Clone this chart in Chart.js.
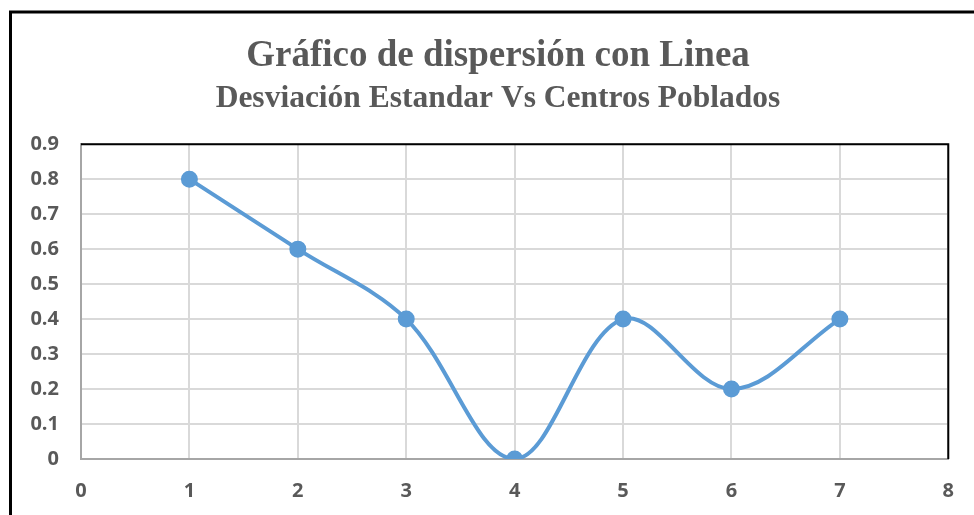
<!DOCTYPE html>
<html>
<head>
<meta charset="utf-8">
<script src="https://cdn.jsdelivr.net/npm/chart.js@4"></script>
<style>
  html, body { margin: 0; padding: 0; background: #fff; }
  #wrap { width: 974px; height: 515px; }
</style>
</head>
<body>
<div id="wrap"><canvas id="chart"></canvas></div>
<script>
// centros poblados (x) y desviacion estandar (y)
const centros = [1, 2, 3, 4, 5, 6, 7];
const desviacion = [0.8, 0.6, 0.4, 0, 0.4, 0.2, 0.4];

const titleText = 'Gráfico de dispersión con Linea';
const subtitleText = 'Desviación Estandar Vs Centros Poblados';

const lineColor = '#5b9bd5';
const textColor = '#595959';

// marco exterior y borde del area de trazado
const frame = {
  id: 'frame',
  beforeDraw(chart) {
    const ctx = chart.ctx;
    ctx.save();
    ctx.fillStyle = '#fff';
    ctx.fillRect(0, 0, chart.width, chart.height);
    ctx.strokeStyle = '#000';
    ctx.lineWidth = 3;
    ctx.strokeRect(10.5, 12, 2000, 2000);
    ctx.restore();
  },
  afterDraw(chart) {
    const a = chart.chartArea;
    const ctx = chart.ctx;
    ctx.save();
    ctx.strokeStyle = '#000';
    ctx.lineWidth = 2;
    ctx.beginPath();
    ctx.moveTo(a.left, a.top);
    ctx.lineTo(a.right, a.top);
    ctx.lineTo(a.right, a.bottom);
    ctx.stroke();
    ctx.restore();
  }
};

const points = centros.map((x, i) => ({ x: x, y: desviacion[i] }));

new Chart('chart', {
  type: 'scatter',
  data: {
    datasets: [{
      data: points,
      showLine: true,
      borderColor: lineColor,
      backgroundColor: lineColor,
      borderWidth: 4,
      pointRadius: 6.5,
      pointHoverRadius: 6.5,
      tension: 0.35
    }]
  },
  options: {
    responsive: true,
    maintainAspectRatio: false,
    animation: false,
    layout: { padding: { left: 22, right: 0, top: 0, bottom: 0 } },
    plugins: {
      legend: { display: false },
      tooltip: { enabled: false },
      title: {
        display: true,
        text: titleText,
        color: textColor,
        font: { family: 'Liberation Serif', size: 37, weight: 'bold' },
        padding: { top: 34, bottom: 0 }
      },
      subtitle: {
        display: true,
        text: subtitleText,
        color: textColor,
        font: { family: 'Liberation Serif', size: 31.5, weight: 'bold' },
        padding: { top: 2, bottom: 26 }
      }
    },
    scales: {
      x: {
        type: 'linear',
        min: 0,
        max: 8,
        ticks: {
          stepSize: 1,
          padding: 20,
          color: textColor,
          font: { family: 'Open Sans', size: 20, weight: 'bold' }
        },
        grid: { color: '#d9d9d9', lineWidth: 2, drawTicks: false },
        border: { color: '#a6a6a6', width: 2 },
        afterFit(scale) { scale.height = 56; }
      },
      y: {
        min: 0,
        max: 0.9,
        ticks: {
          stepSize: 0.1,
          padding: 22,
          color: textColor,
          font: { family: 'Open Sans', size: 20, weight: 'bold' },
          callback: v => +v.toFixed(1)
        },
        grid: { color: '#d9d9d9', lineWidth: 2, drawTicks: false },
        border: { color: '#a6a6a6', width: 2 },
        afterFit(scale) { scale.width = 59; }
      },
      // eje vacio a la derecha, solo deja el margen
      yRight: {
        position: 'right',
        min: 0,
        max: 0.9,
        ticks: { display: false },
        grid: { display: false },
        border: { display: false },
        afterFit(scale) { scale.width = 23; }
      }
    }
  },
  plugins: [frame]
});
</script>
</body>
</html>
